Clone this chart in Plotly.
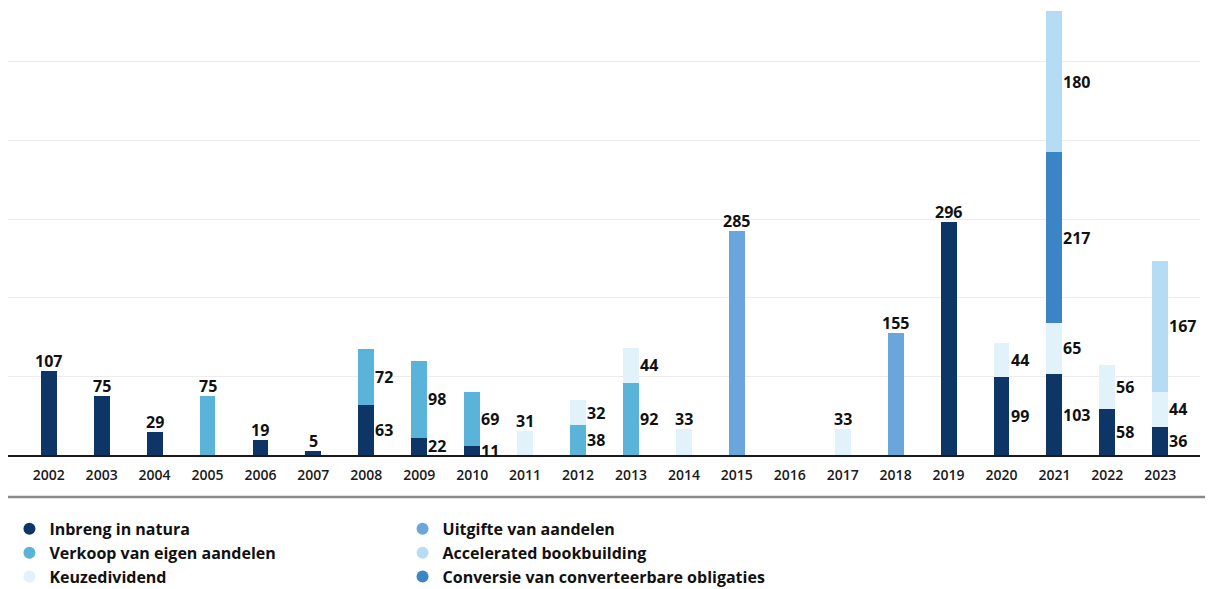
import plotly.graph_objects as go

YEARS = [str(y) for y in range(2002, 2024)]

INBRENG = [107, 75, 29, 0, 19, 5, 63, 22, 11, 0, 0, 0, 0, 0, 0, 0, 0, 296, 99, 103, 58, 36]
VERKOOP = [0, 0, 0, 75, 0, 0, 72, 98, 69, 0, 38, 92, 0, 0, 0, 0, 0, 0, 0, 0, 0, 0]
KEUZEDIVIDEND = [0, 0, 0, 0, 0, 0, 0, 0, 0, 31, 32, 44, 33, 0, 0, 33, 0, 0, 44, 65, 56, 44]
UITGIFTE = [0, 0, 0, 0, 0, 0, 0, 0, 0, 0, 0, 0, 0, 285, 0, 0, 155, 0, 0, 0, 0, 0]
CONVERSIE = [0, 0, 0, 0, 0, 0, 0, 0, 0, 0, 0, 0, 0, 0, 0, 0, 0, 0, 0, 217, 0, 0]
ACCELERATED = [0, 0, 0, 0, 0, 0, 0, 0, 0, 0, 0, 0, 0, 0, 0, 0, 0, 0, 0, 180, 0, 167]

# stacking order bottom -> top
SERIES = [
    ("Inbreng in natura", INBRENG, "#0d3565"),
    ("Verkoop van eigen aandelen", VERKOOP, "#5ab4d9"),
    ("Uitgifte van aandelen", UITGIFTE, "#6aa6dc"),
    ("Keuzedividend", KEUZEDIVIDEND, "#e2f2fb"),
    ("Conversie van converteerbare obligaties", CONVERSIE, "#3b85c6"),
    ("Accelerated bookbuilding", ACCELERATED, "#b6dcf3"),
]

# legend layout: two columns
LEGEND_LEFT = ["Inbreng in natura", "Verkoop van eigen aandelen", "Keuzedividend"]
LEGEND_RIGHT = ["Uitgifte van aandelen", "Accelerated bookbuilding",
                "Conversie van converteerbare obligaties"]

FONT = "Open Sans"

fig = go.Figure()
for name, vals, color in SERIES:
    fig.add_trace(go.Bar(
        x=YEARS, y=[v if v else None for v in vals], name=name,
        marker_color=color, marker_line_width=0, showlegend=False,
        hoverinfo="x+y+name",
    ))

colors = {n: c for n, _, c in SERIES}
for leg, names in (("legend", LEGEND_LEFT), ("legend2", LEGEND_RIGHT)):
    for name in names:
        fig.add_trace(go.Scatter(x=[None], y=[None], mode="markers", name=name,
                                 marker=dict(color=colors[name], size=12), legend=leg))

# value labels (x as category index: numeric-looking names would be read as indices)
for i, year in enumerate(YEARS):
    segs = [vals[i] for _, vals, _ in SERIES]
    nonzero = [v for v in segs if v]
    if not nonzero:
        continue
    if len(nonzero) == 1:
        fig.add_annotation(x=i, y=nonzero[0], text=f"<b>{nonzero[0]}</b>",
                           showarrow=False, yanchor="bottom", yshift=-3,
                           font=dict(size=16, color="#111", family=FONT))
        continue
    base = 0
    for v in segs:
        if v:
            fig.add_annotation(x=i, y=base + v / 2, text=f"<b>{v}</b>",
                               showarrow=False, xanchor="left", xshift=7,
                               font=dict(size=16, color="#111", family=FONT))
            base += v

# gray separator above legend
fig.add_shape(type="line", xref="paper", yref="paper", x0=-0.01, x1=1.02,
              y0=-0.0944, y1=-0.0944, line=dict(color="#8a8a8a", width=2.5))

legend_style = dict(xref="paper", yref="paper", xanchor="left", yanchor="top",
                    font=dict(size=16, color="#111", weight=700), tracegroupgap=0,
                    itemsizing="constant", bgcolor="rgba(0,0,0,0)", traceorder="normal")

# the page body adds an 8px offset, so the figure is 8px smaller than the window
fig.update_layout(
    width=1205, height=581,
    barmode="stack", bargap=0.70,
    plot_bgcolor="white", paper_bgcolor="white",
    margin=dict(l=0, r=13, t=2, b=134, autoexpand=False),
    font=dict(family=FONT, color="#1a1a1a"),
    xaxis=dict(type="category", range=[-0.769, 21.75], showgrid=False,
               showline=True, linecolor="#1a1a1a", linewidth=2, ticks="",
               ticklabelstandoff=6, automargin=False,
               tickfont=dict(size=14, color="#1a1a1a", weight=600)),
    yaxis=dict(range=[0, 566], dtick=100, showgrid=True, gridcolor="#ececec",
               showticklabels=False, zeroline=False, automargin=False),
    legend=dict(x=0.0012, y=-0.128, **legend_style),
    legend2=dict(x=0.331, y=-0.128, **legend_style),
    hovermode="closest",
)

fig.write_html("out.html")
